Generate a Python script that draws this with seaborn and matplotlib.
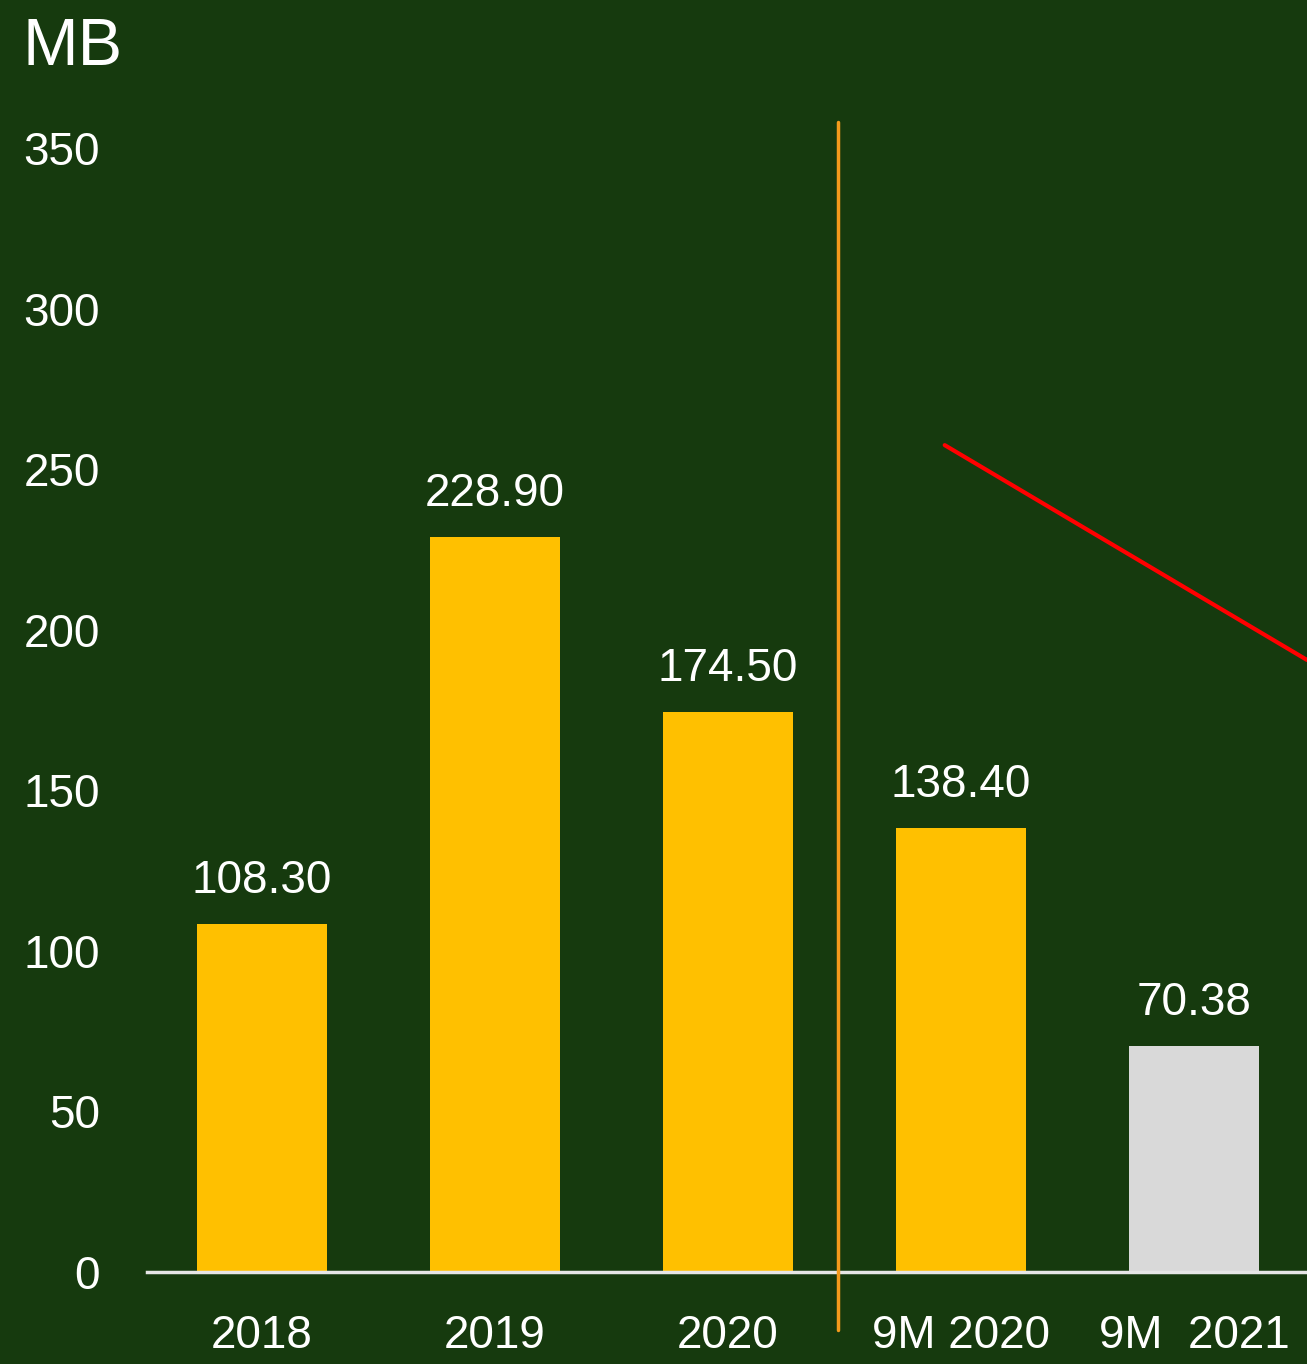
import matplotlib
matplotlib.use("Agg")
import matplotlib.pyplot as plt
import seaborn as sns
import pandas as pd

categories = ["2018", "2019", "2020", "9M 2020", "9M  2021"]
values = [108.30, 228.90, 174.50, 138.40, 70.38]
value_labels = ["108.30", "228.90", "174.50", "138.40", "70.38"]
bar_colors = ["#FFC000", "#FFC000", "#FFC000", "#FFC000", "#D9D9D9"]
y_ticks = [0, 50, 100, 150, 200, 250, 300, 350]

BG = "#163A0E"

sns.set_theme(style="white")
plt.rcParams["font.family"] = ["Liberation Sans", "DejaVu Sans"]

fig = plt.figure(figsize=(13.07, 13.64), dpi=100, facecolor=BG)
ax = fig.add_axes([147 / 1307, 92 / 1364, 1 - 147 / 1307, (1248 - 92) / 1364])
ax.set_facecolor(BG)

df = pd.DataFrame({"cat": categories, "val": values})
sns.barplot(data=df, x="cat", y="val", hue="cat", palette=bar_colors,
            width=0.555, legend=False, ax=ax, saturation=1, linewidth=0)

ax.set_ylim(0, 360)
ax.set_xlim(-0.494, 4.485)
ax.set_yticks(y_ticks)
ax.set_xlabel("")
ax.set_ylabel("")
ax.tick_params(axis="y", length=0, pad=34, labelsize=33, labelcolor="white")
ax.tick_params(axis="x", length=0, pad=30, labelsize=33, labelcolor="white")

for s in ["top", "right", "left"]:
    ax.spines[s].set_visible(False)
ax.spines["bottom"].set_color("#E6E6E6")
ax.spines["bottom"].set_linewidth(2.5)
ax.spines["bottom"].set_zorder(4)

for i, (v, lab) in enumerate(zip(values, value_labels)):
    ax.annotate(lab, (i, v), xytext=(0, 15), textcoords="offset points",
                ha="center", va="bottom", fontsize=33, color="white")

# orange divider
ax.plot([2.47, 2.47], [358, -18], color="#F39A1C", lw=2.5, clip_on=False, zorder=5)
# red trend line
ax.plot([2.93, 4.485], [257.5, 190.6], color="#FF0000", lw=3, clip_on=False, zorder=5)

fig.text(22 / 1307, 1 - 65 / 1364, "MB", fontsize=48, color="white",
         ha="left", va="baseline")

fig.savefig("out.png", dpi=100, facecolor=BG)
